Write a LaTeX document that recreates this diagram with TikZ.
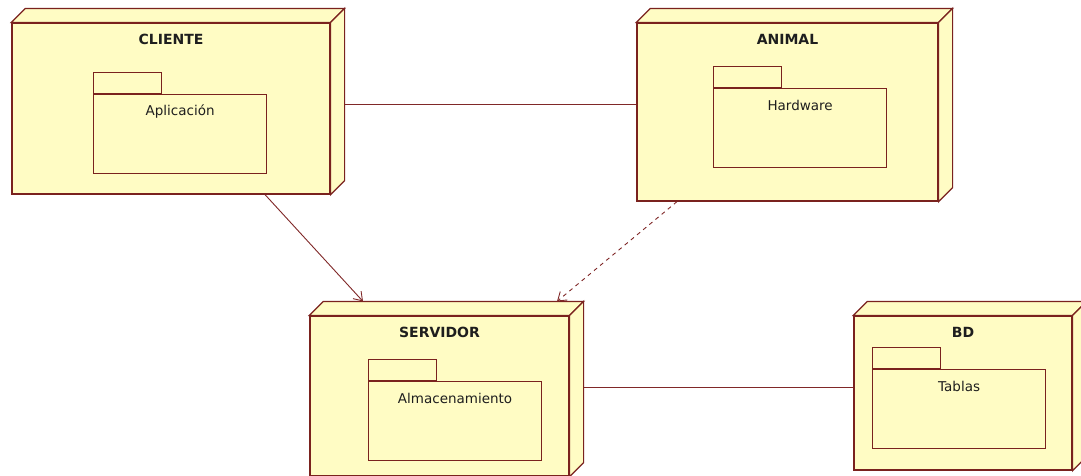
\documentclass[tikz,border=0pt]{standalone}
\usepackage{fontspec}
\setmainfont{DejaVu Sans}
\usetikzlibrary{fit,arrows.meta}
\pgfdeclarelayer{background}
\pgfsetlayers{background,main}

\definecolor{nodefill}{RGB}{255,252,196}
\definecolor{nodeline}{RGB}{122,34,30}
\definecolor{linkline}{RGB}{128,40,40}
\definecolor{ink}{RGB}{30,30,30}

\tikzset{
  front/.style={draw=nodeline, fill=nodefill, line width=1.2pt, inner sep=0pt},
  face/.style={draw=nodeline, fill=nodefill, line width=1.2pt, line join=miter},
  pkgbody/.style={draw=nodeline, fill=nodefill, line width=1.2pt, inner sep=0pt,
                  minimum width=173pt, minimum height=79pt, anchor=north west},
  pkgtab/.style={draw=nodeline, fill=nodefill, line width=1.2pt, inner sep=0pt,
                 minimum width=68pt, minimum height=21pt, anchor=south west},
  titletext/.style={text=ink, font=\bfseries\fontsize{14}{16}\selectfont, inner sep=0pt},
  pkgtext/.style={text=ink, font=\fontsize{13.5}{16}\selectfont, inner sep=0pt},
  link/.style={draw=linkline, line width=0.9pt},
  dep/.style={draw=linkline, line width=0.9pt, -{Straight Barb[length=8pt,width=11pt]}},
  depdash/.style={dep, dash pattern=on 4pt off 4pt},
}

% #1 name, #2 front top-left, #3 front bottom-right, #4 title,
% #5 package body top-left, #6 package label
\newcommand\deploybox[6]{%
  \node[front, fit={(#2)(#3)}] (#1) {};
  \path[face] (#1.north west) -- ([shift={(14,-14)}]#1.north west)
    -- ([shift={(14,-14)}]#1.north east) -- (#1.north east) -- cycle;
  \path[face] (#1.north east) -- ([shift={(14,-14)}]#1.north east)
    -- ([shift={(14,-14)}]#1.south east) -- (#1.south east) -- cycle;
  \coordinate (#1-back) at ([shift={(14,-14)}]#1.north);
  \node[titletext] (#1-title) at ([yshift=-17pt]#1.north) {#4};
  \node[pkgbody] (#1-pkg) at (#5) {};
  \node[pkgtab] (#1-tab) at (#1-pkg.north west) {};
  \node[pkgtext] (#1-label) at ([yshift=-17.5pt]#1-pkg.north) {#6};
}

\begin{document}
\begin{tikzpicture}[x=1pt, y=-1pt]
  \useasboundingbox (0,0) rectangle (1081,475);
  \clip (0,0) rectangle (1081,475);

  \deploybox{cli}{12,23}{330,194}{CLIENTE}{93,94}{Aplicación}
  \deploybox{ani}{637,23}{938,201}{ANIMAL}{713,88}{Hardware}
  \deploybox{srv}{310,316}{569,476}{SERVIDOR}{368,381}{Almacenamiento}
  \deploybox{bd}{854,316}{1072,470}{BD}{872,369}{Tablas}

  % white sheet and plain associations, behind the boxes
  \begin{pgfonlayer}{background}
    \fill[white] (0,0) rectangle (1081,475);
    \draw[link] (cli.east |- 0,104) -- (ani.west |- 0,104);
    \draw[link] (srv.east |- 0,387) -- (bd.west |- 0,387);
  \end{pgfonlayer}

  % dependencies towards the server
  \draw[dep] (cli.south -| 265,0) -- (srv-back -| 363,0);
  \draw[depdash] (ani.south -| 677,0) -- (srv-back -| 557,0);
\end{tikzpicture}
\end{document}
